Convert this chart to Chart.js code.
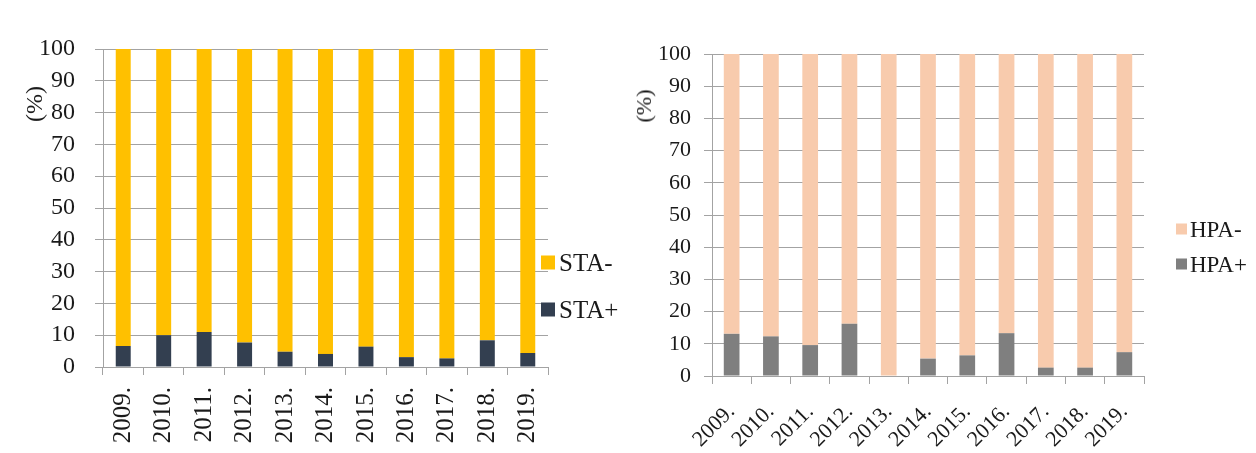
<!DOCTYPE html>
<html>
<head>
<meta charset="utf-8">
<script src="https://cdn.jsdelivr.net/npm/chart.js@4.4.1/dist/chart.umd.min.js"></script>
<style>
  html, body { margin: 0; padding: 0; background: #ffffff; }
  body { width: 1256px; height: 453px; position: relative; overflow: hidden;
         font-family: "Liberation Serif", "Times New Roman", serif; color: #1a1a1a; }
  canvas { position: absolute; top: 0; }
  #staChart { left: 0; }
  #hpaChart { left: 620px; }
  .axis-title { position: absolute; white-space: nowrap; line-height: 1;
                transform: translate(-50%, -50%) rotate(-90deg); }
  .legend { position: absolute; }
  .legend-item { position: absolute; left: 0; display: flex; align-items: center;
                 white-space: nowrap; line-height: 1; transform: translateY(-50%); }
  .legend-box { display: inline-block; }
</style>
</head>
<body>
<canvas id="staChart" width="640" height="453"></canvas>
<canvas id="hpaChart" width="636" height="453"></canvas>
<div class="axis-title" style="left:34px; top:104px; font-size:24px;">(%)</div>
<div class="axis-title" style="left:644px; top:106px; font-size:22px;">(%)</div>
<div class="legend" id="staLegend" style="left:541px; top:0;"></div>
<div class="legend" id="hpaLegend" style="left:1176px; top:0;"></div>
<script>
// Years on the category axis
const years = ['2009.', '2010.', '2011.', '2012.', '2013.', '2014.', '2015.', '2016.', '2017.', '2018.', '2019.'];

// Share of STA+ / STA- per year (%)
const staPlus  = [6.6, 10.0, 11.0, 7.7, 4.8, 4.1, 6.4, 3.1, 2.7, 8.4, 4.4];
const staMinus = [93.4, 90.0, 89.0, 92.3, 95.2, 95.9, 93.6, 96.9, 97.3, 91.6, 95.6];

// Share of HPA+ / HPA- per year (%)
const hpaPlus  = [13.1, 12.3, 9.6, 16.2, 0, 5.4, 6.4, 13.3, 2.6, 2.6, 7.4];
const hpaMinus = [86.9, 87.7, 90.4, 83.8, 100, 94.6, 93.6, 86.7, 97.4, 97.4, 92.6];

// Value axis ticks
const yMin = 0, yMax = 100, yStep = 10;

const FONT = '"Liberation Serif", "Times New Roman", serif';
const TEXT = '#1a1a1a';
const GRID = '#a3a3a3';

function makeChart(id, cfg) {
  return new Chart(document.getElementById(id), {
    type: 'bar',
    data: {
      labels: years,
      datasets: [
        { label: cfg.labels[0], data: cfg.plus,  backgroundColor: cfg.colors[0],
          categoryPercentage: cfg.catPct, barPercentage: 1 },
        { label: cfg.labels[1], data: cfg.minus, backgroundColor: cfg.colors[1],
          categoryPercentage: cfg.catPct, barPercentage: 1 }
      ]
    },
    options: {
      responsive: false,
      animation: false,
      devicePixelRatio: 1,
      layout: { padding: cfg.padding },
      plugins: { legend: { display: false }, tooltip: { enabled: false } },
      scales: {
        x: {
          stacked: true,
          grid: { drawOnChartArea: false, drawTicks: true, tickLength: 8, color: GRID, offset: true },
          border: { display: true, color: GRID },
          ticks: { autoSkip: false, minRotation: cfg.rotation, maxRotation: cfg.rotation,
                   padding: cfg.xPad, color: TEXT, font: { family: FONT, size: cfg.xFont } },
          afterFit: s => { s.height = cfg.xHeight; }
        },
        y: {
          stacked: true, min: yMin, max: yMax,
          grid: { color: GRID, tickLength: 8 },
          border: { display: true, color: GRID },
          ticks: { stepSize: yStep, padding: cfg.yPad, color: TEXT,
                   font: { family: FONT, size: cfg.yFont } },
          afterFit: s => { s.width = cfg.yWidth; }
        }
      }
    }
  });
}

// Legend listing the series top-down as they are stacked in the bars
function buildLegend(chart, el, o) {
  const items = chart.data.datasets.slice().reverse();
  items.forEach((ds, i) => {
    const row = document.createElement('div');
    row.className = 'legend-item';
    row.style.top = (o.firstY + i * o.gap) + 'px';
    row.style.fontSize = o.font + 'px';
    const box = document.createElement('span');
    box.className = 'legend-box';
    box.style.width = o.box + 'px';
    box.style.height = o.box + 'px';
    box.style.background = ds.backgroundColor;
    box.style.marginRight = o.space + 'px';
    row.appendChild(box);
    row.appendChild(document.createTextNode(ds.label));
    el.appendChild(row);
  });
}

const sta = makeChart('staChart', {
  labels: ['STA+', 'STA-'], plus: staPlus, minus: staMinus,
  colors: ['#333f50', '#ffc000'], catPct: 0.37,
  padding: { left: 0, top: 49, right: 92, bottom: 0 },
  rotation: 90, xPad: 12, xFont: 25, xHeight: 86,
  yPad: 20, yFont: 24, yWidth: 103
});

const hpa = makeChart('hpaChart', {
  labels: ['HPA+', 'HPA-'], plus: hpaPlus, minus: hpaMinus,
  colors: ['#7f7f7f', '#f8cbad'], catPct: 0.4,
  padding: { left: 0, top: 54, right: 112, bottom: 0 },
  rotation: 45, xPad: 15, xFont: 22, xHeight: 77,
  yPad: 13, yFont: 22, yWidth: 92
});

buildLegend(sta, document.getElementById('staLegend'), { firstY: 262, gap: 47, font: 25, box: 14, space: 4 });
buildLegend(hpa, document.getElementById('hpaLegend'), { firstY: 229, gap: 35, font: 23, box: 11, space: 3 });
</script>
</body>
</html>
